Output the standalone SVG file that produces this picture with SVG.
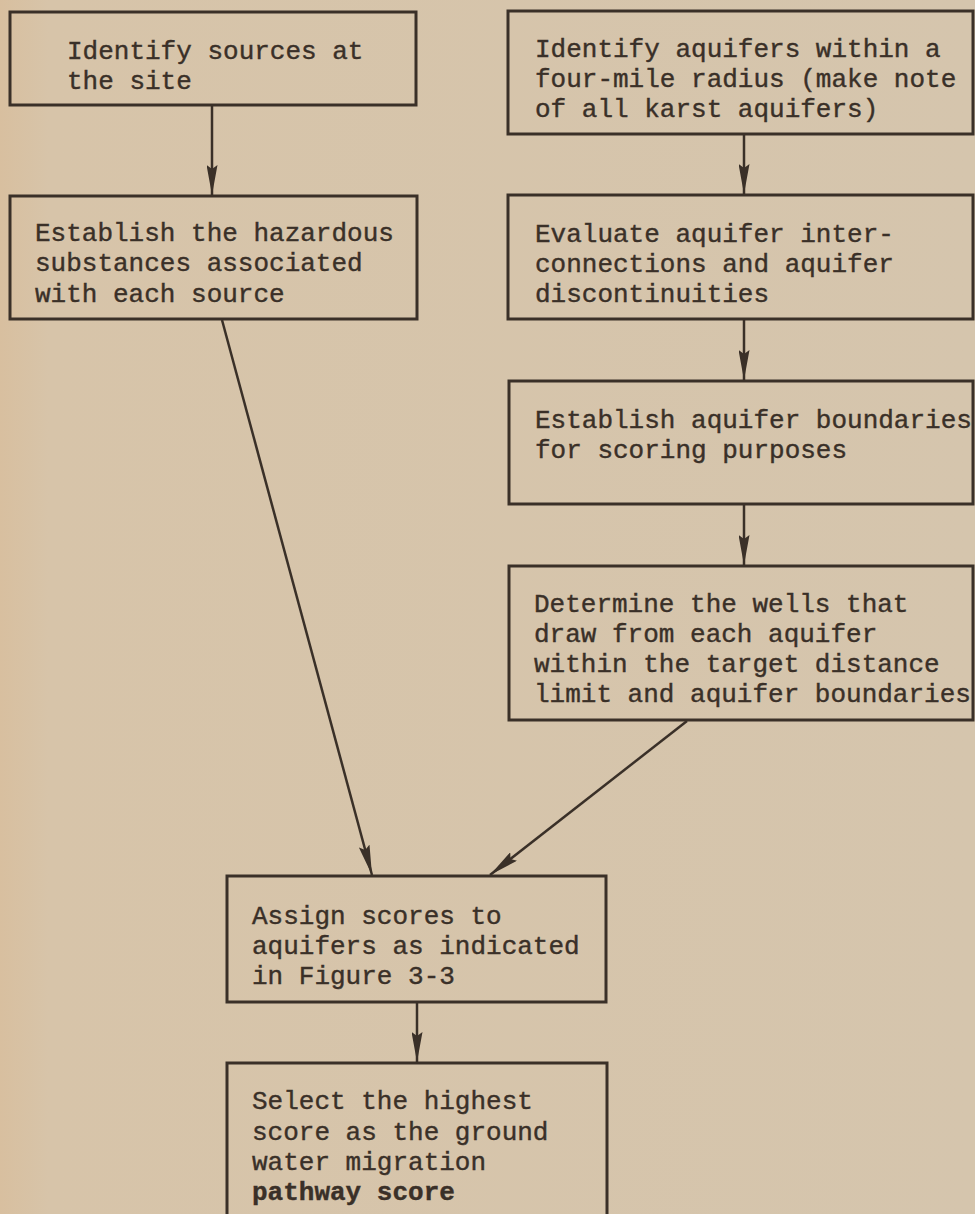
<svg xmlns="http://www.w3.org/2000/svg" width="975" height="1214" viewBox="0 0 975 1214">
<defs>
<linearGradient id="bg" x1="0" y1="0" x2="1" y2="0">
<stop offset="0" stop-color="#d8bf9f"/>
<stop offset="0.05" stop-color="#d7c4a9"/>
<stop offset="1" stop-color="#d5c5ad"/>
</linearGradient>
<marker id="ah" viewBox="0 0 30 11" refX="30" refY="5.5" markerWidth="30" markerHeight="11" markerUnits="userSpaceOnUse" orient="auto">
<path d="M0,0 L30,5.5 L0,11 L4,5.5 z" fill="#3a3028"/>
</marker>
<style>
.box{fill:none;stroke:#3a3028;stroke-width:3}
.t{font-family:"Liberation Mono","DejaVu Sans Mono",monospace;font-size:26px;fill:#3a3028;stroke:#3a3028;stroke-width:0.4}
.b{font-weight:bold}
.c{fill:none;stroke:#3a3028;stroke-width:2.5;marker-end:url(#ah)}
</style>
</defs>
<rect x="0" y="0" width="975" height="1214" fill="url(#bg)"/>

<g id="n1">
<rect class="box" x="10" y="12" width="406" height="93"/>
<text class="t" x="67" y="59">Identify sources at</text>
<text class="t" x="67" y="89">the site</text>
</g>
<g id="n2">
<rect class="box" x="10" y="196" width="407" height="123"/>
<text class="t" x="35" y="241">Establish the hazardous</text>
<text class="t" x="35" y="271">substances associated</text>
<text class="t" x="35" y="302">with each source</text>
</g>
<g id="n3">
<rect class="box" x="508" y="11" width="465" height="123"/>
<text class="t" x="535" y="57">Identify aquifers within a</text>
<text class="t" x="535" y="87">four-mile radius (make note</text>
<text class="t" x="535" y="117">of all karst aquifers)</text>
</g>
<g id="n4">
<rect class="box" x="508" y="195" width="465" height="124"/>
<text class="t" x="535" y="242">Evaluate aquifer inter-</text>
<text class="t" x="535" y="272">connections and aquifer</text>
<text class="t" x="535" y="302">discontinuities</text>
</g>
<g id="n5">
<rect class="box" x="509" y="381" width="464" height="123"/>
<text class="t" x="535" y="428">Establish aquifer boundaries</text>
<text class="t" x="535" y="458">for scoring purposes</text>
</g>
<g id="n6">
<rect class="box" x="509" y="566" width="464" height="154"/>
<text class="t" x="534" y="612">Determine the wells that</text>
<text class="t" x="534" y="642">draw from each aquifer</text>
<text class="t" x="534" y="672">within the target distance</text>
<text class="t" x="534" y="702">limit and aquifer boundaries</text>
</g>
<g id="n7">
<rect class="box" x="227" y="876" width="379" height="126"/>
<text class="t" x="252" y="924">Assign scores to</text>
<text class="t" x="252" y="954">aquifers as indicated</text>
<text class="t" x="252" y="984">in Figure 3-3</text>
</g>
<g id="n8">
<rect class="box" x="227" y="1063" width="380" height="170"/>
<text class="t" x="252" y="1109">Select the highest</text>
<text class="t" x="252" y="1140">score as the ground</text>
<text class="t" x="252" y="1170">water migration</text>
<text class="t b" x="252" y="1200">pathway score</text>
</g>

<g id="connectors">
<line class="c" x1="212" y1="106" x2="212" y2="195"/>
<line class="c" x1="744" y1="135" x2="744" y2="194"/>
<line class="c" x1="744" y1="320" x2="744" y2="380"/>
<line class="c" x1="744" y1="505" x2="744" y2="565"/>
<line class="c" x1="222" y1="320" x2="372" y2="875"/>
<line class="c" x1="687" y1="721" x2="490" y2="875"/>
<line class="c" x1="417" y1="1003" x2="417" y2="1062"/>
</g>
</svg>
